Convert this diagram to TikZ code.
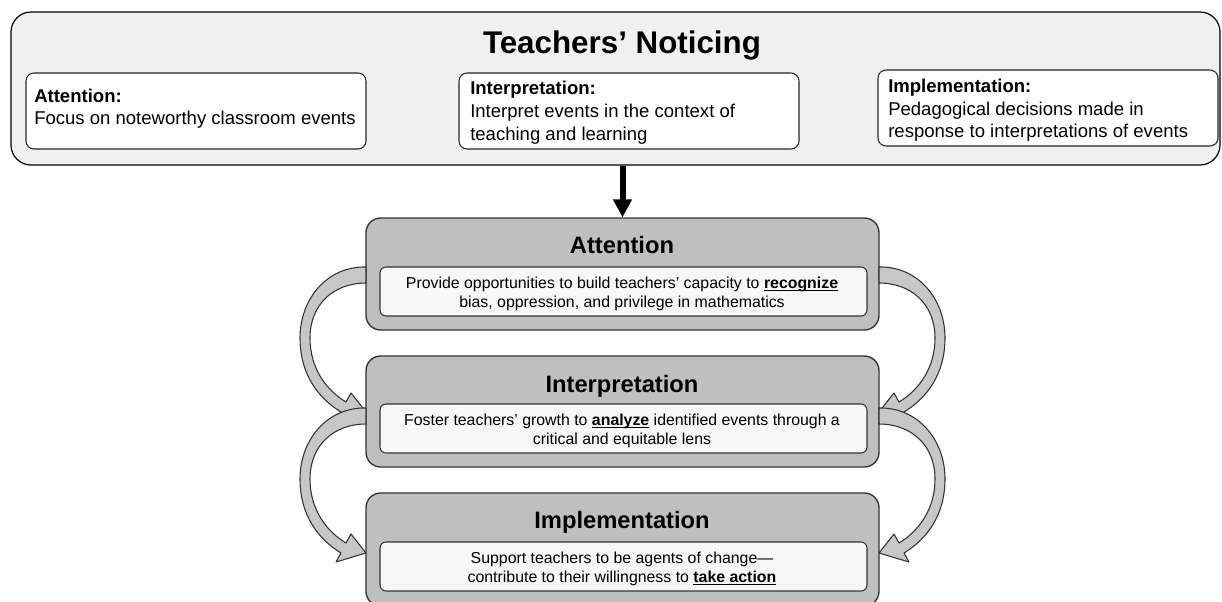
\documentclass[tikz,border=0pt]{standalone}
\usepackage{fontspec}
\setmainfont{Liberation Sans}
\usetikzlibrary{arrows.meta,fit}

\tikzset{
  outerbox/.style={draw=black, line width=0.9pt, fill=gray!12, rounded corners=15pt, inner sep=0pt},
  notebox/.style={draw=black!85, line width=0.8pt, fill=white, rounded corners=6pt, inner sep=0pt},
  stagebox/.style={draw=black!80, line width=1pt, fill=black!25, rounded corners=11pt, inner sep=0pt},
  stageinner/.style={draw=black!80, line width=0.8pt, fill=white!97!black, rounded corners=4.5pt, inner sep=0pt},
  headtxt/.style={font=\fontsize{23.5pt}{28pt}\selectfont\bfseries, inner sep=0pt},
  notetxt/.style={font=\fontsize{13.9pt}{17pt}\selectfont, inner sep=0pt, anchor=base west},
  stagetitle/.style={font=\fontsize{17.8pt}{21pt}\selectfont\bfseries, inner sep=0pt, anchor=base},
  stagetxt/.style={font=\fontsize{11.9pt}{14pt}\selectfont, inner sep=0pt, anchor=base},
  bigarrow/.style={line width=4.5pt, -{Triangle[length=13.5pt,width=13.5pt]}},
  bendarrow/.style={draw=black!80, line width=0.8pt, fill=black!22, line join=round},
}
% bold key word with a firm underline
\newcommand{\keyword}[1]{\setbox0\hbox{\textbf{#1}}\rlap{\rule[-2.3pt]{\wd0}{0.9pt}}\box0\relax}
% one curved block arrow leaving a stage box on its left side
\newcommand{\bendshape}{%
  (366,267) .. controls (328,266) and (300,298) .. (300,338)
            .. controls (300,374) and (318,398) .. (341,412)
  -- (336,421) -- (366,412) -- (351,393) -- (346,402)
            .. controls (326,390) and (310,368) .. (310,338)
            .. controls (310,304) and (334,283) .. (366,283) -- cycle}

\begin{document}
\begin{tikzpicture}[x=0.75pt,y=-0.75pt]
\useasboundingbox (0,0) rectangle (1222,601);

% framework overview
\node[outerbox, fit={(11,12) (1220,165)}] (top) {};
\node[headtxt, anchor=base] (toptitle) at (622,53) {Teachers’ Noticing};

\node[notebox, fit={(26,73) (366,149)}] (natt) {};
\node[notetxt] (natt1) at (34,102) {\textbf{Attention:}};
\node[notetxt] (natt2) at (34,124) {Focus on noteworthy classroom events};

\node[notebox, fit={(459,73) (799,149)}] (nint) {};
\node[notetxt] (nint1) at (470,94) {\textbf{Interpretation:}};
\node[notetxt] (nint2) at (470,117) {Interpret events in the context of};
\node[notetxt] (nint3) at (470,140) {teaching and learning};

\node[notebox, fit={(878,70) (1218,146)}] (nimp) {};
\node[notetxt] (nimp1) at (888,92) {\textbf{Implementation:}};
\node[notetxt] (nimp2) at (888,115) {Pedagogical decisions made in};
\node[notetxt] (nimp3) at (888,137) {response to interpretations of events};

% stages
\node[stagebox, fit={(366,218) (879,330)}] (satt) {};
\node[stageinner, fit={(380,267) (867,316)}] (satti) {};
\node[stagetitle] (satt0) at (622,253) {Attention};
\node[stagetxt] (satt1) at (622,288) {Provide opportunities to build teachers’ capacity to \keyword{recognize}};
\node[stagetxt] (satt2) at (622,307) {bias, oppression, and privilege in mathematics};

\node[stagebox, fit={(366,356) (879,467)}] (sint) {};
\node[stageinner, fit={(380,404) (867,453)}] (sinti) {};
\node[stagetitle] (sint0) at (622,392) {Interpretation};
\node[stagetxt] (sint1) at (622,425) {Foster teachers’ growth to \keyword{analyze} identified events through a};
\node[stagetxt] (sint2) at (622,444) {critical and equitable lens};

\node[stagebox, fit={(366,493) (879,606)}] (simp) {};
\node[stageinner, fit={(380,542) (867,591)}] (simpi) {};
\node[stagetitle] (simp0) at (622,528) {Implementation};
\node[stagetxt] (simp1) at (622,563) {Support teachers to be agents of change—};
\node[stagetxt] (simp2) at (622,582) {contribute to their willingness to \keyword{take action}};

% link from the overview to the stages
\draw[bigarrow] (top.south -| satt.north) -- (satt.north);

% curved arrows between the stages
\path[bendarrow] \bendshape;
\begin{scope}[shift={(0,141)}]
  \path[bendarrow] \bendshape;
\end{scope}
\begin{scope}[shift={(1245,0)}, xscale=-1]
  \path[bendarrow] \bendshape;
\end{scope}
\begin{scope}[shift={(1245,141)}, xscale=-1]
  \path[bendarrow] \bendshape;
\end{scope}
\end{tikzpicture}
\end{document}
